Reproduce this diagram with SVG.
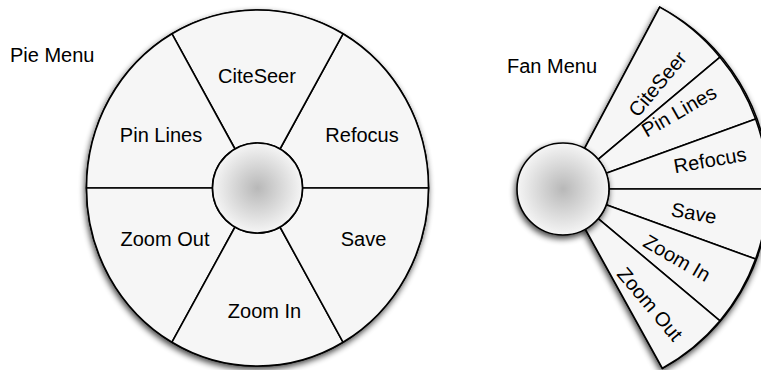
<svg xmlns="http://www.w3.org/2000/svg" width="761" height="370" viewBox="0 0 761 370">
<defs>
<filter id="shadow" x="-20%" y="-20%" width="140%" height="140%">
<feGaussianBlur in="SourceAlpha" stdDeviation="3"/>
<feOffset dx="-1" dy="3" result="b"/>
<feComponentTransfer><feFuncA type="linear" slope="0.75"/></feComponentTransfer>
<feMerge><feMergeNode/><feMergeNode in="SourceGraphic"/></feMerge>
</filter>
<radialGradient id="hub" cx="50%" cy="50%" r="50%">
<stop offset="0" stop-color="#b8b8b8"/>
<stop offset="1" stop-color="#f5f5f5"/>
</radialGradient>
</defs>
<style>
.sec{fill:#f6f6f6;stroke:#000;stroke-width:1.6;stroke-linejoin:round}
.bg{fill:#f6f6f6;stroke:#000;stroke-width:1.6}
.hub{fill:url(#hub);stroke:#000;stroke-width:1.6}
text{font-family:"Liberation Sans",Arial,Helvetica,sans-serif;font-size:20px;fill:#000}
.lbl{text-anchor:middle}
</style>
<rect width="761" height="370" fill="#fff"/>
<text x="10" y="62">Pie Menu</text>
<text x="507" y="73">Fan Menu</text>

<g id="pie-menu">
<ellipse class="bg" cx="257.5" cy="188" rx="171" ry="178" filter="url(#shadow)"/>
<g id="pie-refocus"><path class="sec" d="M302.5,188 L428.5,188 A171 178 0 0 0 343,33.8 L280,149 A45 45 0 0 1 302.5,188 Z"/><text class="lbl" x="362" y="142">Refocus</text></g>
<g id="pie-citeseer"><path class="sec" d="M280,149 L343,33.8 A171 178 0 0 0 172,33.8 L235,149 A45 45 0 0 1 280,149 Z"/><text class="lbl" x="257" y="83">CiteSeer</text></g>
<g id="pie-pinlines"><path class="sec" d="M235,149 L172,33.8 A171 178 0 0 0 86.5,188 L212.5,188 A45 45 0 0 1 235,149 Z"/><text class="lbl" x="161" y="142">Pin Lines</text></g>
<g id="pie-zoomout"><path class="sec" d="M212.5,188 L86.5,188 A171 178 0 0 0 172,342.2 L235,227 A45 45 0 0 1 212.5,188 Z"/><text class="lbl" x="165" y="246">Zoom Out</text></g>
<g id="pie-zoomin"><path class="sec" d="M235,227 L172,342.2 A171 178 0 0 0 343,342.2 L280,227 A45 45 0 0 1 235,227 Z"/><text class="lbl" x="264.5" y="318">Zoom In</text></g>
<g id="pie-save"><path class="sec" d="M280,227 L343,342.2 A171 178 0 0 0 428.5,188 L302.5,188 A45 45 0 0 1 280,227 Z"/><text class="lbl" x="363.5" y="246">Save</text></g>
<g id="pie-hub"><circle class="hub" cx="257.5" cy="188" r="45"/></g>
</g>

<g id="fan-menu">
<path class="bg" d="M584.6,148.4 L659.7,7.1 A205 205 0 0 1 662.4,368.3 L585.3,229.2 Z" filter="url(#shadow)"/>
<g id="fan-citeseer"><path class="sec" d="M584.6,148.4 L659.7,7.1 A205 205 0 0 1 720,57.2 L598.2,159.4 A46 46 0 0 0 584.6,148.4 Z"/><text class="lbl" x="657.5" y="84" dy="0.35em" transform="rotate(-50 657.5 84)">CiteSeer</text></g>
<g id="fan-pinlines"><path class="sec" d="M598.2,159.4 L720,57.2 A205 205 0 0 1 755.6,118.9 L606.2,173.3 A46 46 0 0 0 598.2,159.4 Z"/><text class="lbl" x="679" y="111" dy="0.35em" transform="rotate(-30 679 111)">Pin Lines</text></g>
<g id="fan-refocus"><path class="sec" d="M606.2,173.3 L755.6,118.9 A205 205 0 0 1 768,189 L609,189 A46 46 0 0 0 606.2,173.3 Z"/><text class="lbl" x="710" y="160" dy="0.35em" transform="rotate(-10 710 160)">Refocus</text></g>
<g id="fan-save"><path class="sec" d="M609,189 L768,189 A205 205 0 0 1 755.6,259.1 L606.2,204.7 A46 46 0 0 0 609,189 Z"/><text class="lbl" x="694" y="213" dy="0.35em" transform="rotate(10 694 213)">Save</text></g>
<g id="fan-zoomin"><path class="sec" d="M606.2,204.7 L755.6,259.1 A205 205 0 0 1 720,320.8 L598.2,218.6 A46 46 0 0 0 606.2,204.7 Z"/><text class="lbl" x="677" y="258" dy="0.35em" transform="rotate(30 677 258)">Zoom In</text></g>
<g id="fan-zoomout"><path class="sec" d="M598.2,218.6 L720,320.8 A205 205 0 0 1 662.4,368.3 L585.3,229.2 A46 46 0 0 0 598.2,218.6 Z"/><text class="lbl" x="650" y="304" dy="0.35em" transform="rotate(50 650 304)">Zoom Out</text></g>
<g id="fan-hub"><circle class="hub" cx="563" cy="189" r="46" filter="url(#shadow)"/></g>
</g>
</svg>
